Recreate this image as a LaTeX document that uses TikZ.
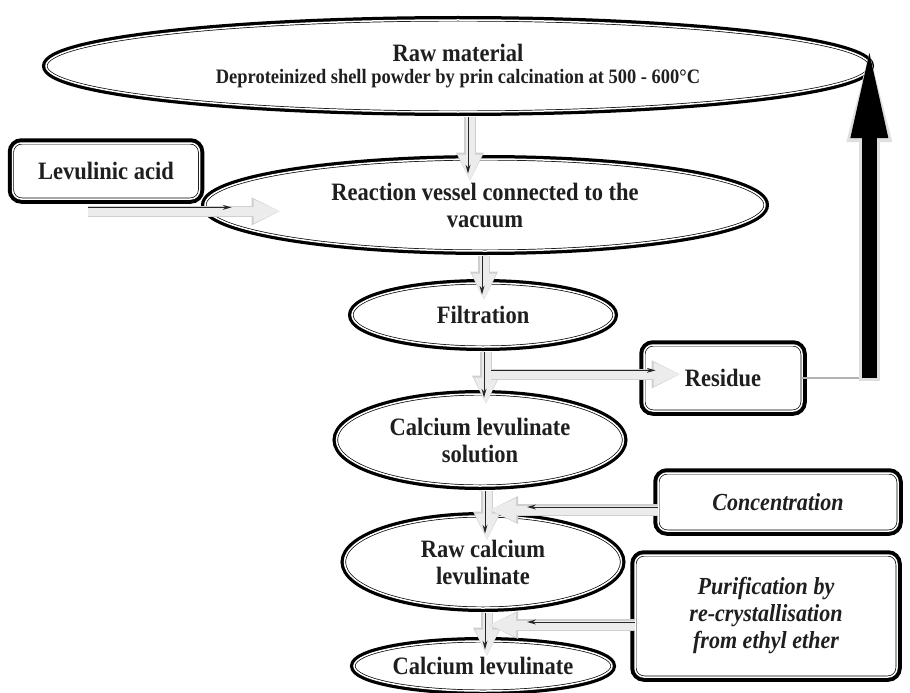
\documentclass[tikz,border=0pt]{standalone}
\usepackage{fontspec}
\setmainfont{Liberation Serif}[FakeStretch=0.9]
\usetikzlibrary{shapes.geometric,arrows.meta,calc}
\begin{document}
\begin{tikzpicture}[x=1pt,y=-1pt,
  lab/.style={font=\fontsize{25}{27}\selectfont\bfseries, align=center, text=black!88},
  ital/.style={font=\fontsize{24.5}{27}\selectfont\bfseries\itshape, align=center, text=black!88},
  dbl/.style={draw=black, line width=0.7pt, double=white, double distance=1.5pt, fill=white},
  ell/.style={dbl, ellipse, inner sep=0pt, preaction={draw=black, line width=8pt}},
  box/.style={dbl, rectangle, rounded corners=9pt, inner sep=0pt, preaction={draw=black, line width=9.5pt}},
  garrow/.style={draw=gray!15, line width=9pt, -{Triangle[length=26pt,width=24pt,line width=0pt]},
     preaction={draw=gray!38, line width=11.5pt, -{Triangle[length=28pt,width=28pt,line width=0pt]}}},
  barrow/.style={draw=black!85, line width=0.8pt, -{Stealth[length=9pt,width=5pt,line width=0pt]}},
  retline/.style={draw=gray!60, line width=1.3pt},
  bigup/.style={draw=black, line width=15pt, -{Triangle[length=85pt,width=38pt,line width=0pt]},
     preaction={draw=gray!25, line width=21pt, shorten <=-3pt, -{Triangle[length=89pt,width=46pt,line width=0pt]}}}
]
\useasboundingbox (0,0) rectangle (910,693);

% nodes
\node[ell, lab, minimum width=824pt, minimum height=92pt] (raw) at (458,66)
  {Raw material\\[-5pt]{\fontsize{20.5}{22}\selectfont Deproteinized shell powder by prin calcination at 500 - 600°C}};
\node[box, lab, minimum width=187pt, minimum height=56pt] (lev) at (106,171) {Levulinic acid};
\node[ell, lab, minimum width=560pt, minimum height=92pt] (rv) at (485,205) {Reaction vessel connected to the\\vacuum};
\node[ell, lab, minimum width=262pt, minimum height=64pt] (filt) at (483,315) {Filtration};
\node[box, lab, minimum width=158pt, minimum height=66pt] (res) at (723,378) {Residue};
\node[ell, lab, minimum width=287pt, minimum height=92pt] (cls) at (480,440) {Calcium levulinate\\solution};
\node[box, ital, minimum width=240pt, minimum height=58pt] (conc) at (778,502) {Concentration};
\node[ell, lab, minimum width=277pt, minimum height=92pt] (rcl) at (483,562) {Raw calcium\\levulinate};
\node[box, ital, minimum width=262pt, minimum height=122pt] (pur) at (766,616) {Purification by\\re-crystallisation\\from ethyl ether};
\node[ell, lab, minimum width=258pt, minimum height=50pt] (cl) at (483,666) {Calcium levulinate};

% vertical flow arrows
\draw[garrow] ([xshift=12pt,yshift=-5pt]raw.south) -- ([xshift=12pt,yshift=-22pt]raw.south |- rv.north);
\draw[barrow] ([xshift=10pt,yshift=-5pt]raw.south) -- ([xshift=10pt,yshift=-15pt]raw.south |- rv.north);

\draw[garrow] ([xshift=-1pt,yshift=-5pt]rv.south) -- ([xshift=-1pt,yshift=-17pt]rv.south |- filt.north);
\draw[barrow] ([xshift=-3pt,yshift=-5pt]rv.south) -- ([xshift=-3pt,yshift=-12pt]rv.south |- filt.north);

\draw[garrow] ([xshift=3pt,yshift=-5pt]filt.south) -- ([xshift=3pt,yshift=-10pt]filt.south |- cls.north);
\draw[barrow] ([xshift=1pt,yshift=-5pt]filt.south) -- ([xshift=1pt,yshift=-4pt]filt.south |- cls.north);

\draw[garrow] ([xshift=7pt,yshift=-5pt]cls.south) -- ([xshift=7pt,yshift=-24pt]cls.south |- rcl.north);
\draw[barrow] ([xshift=5pt,yshift=-5pt]cls.south) -- ([xshift=5pt,yshift=-18pt]cls.south |- rcl.north);

\draw[garrow] ([xshift=4pt,yshift=-5pt]rcl.south) -- ([xshift=4pt,yshift=-15pt]rcl.south |- cl.north);
\draw[barrow] ([xshift=2pt,yshift=-5pt]rcl.south) -- ([xshift=2pt,yshift=-9pt]rcl.south |- cl.north);

% side arrows
\coordinate (levs) at ([xshift=-18pt,yshift=-9pt]lev.south);
\draw[garrow] ([yshift=-3pt]levs) -- ([xshift=75pt,yshift=-3pt]levs -| rv.west);
\draw[barrow] ([yshift=1pt]levs) -- ([xshift=27pt,yshift=1pt]levs -| rv.west);

\coordinate (ress) at ([xshift=8pt,yshift=-25pt]filt.south);
\draw[garrow] ([yshift=-2pt]ress) -- ([xshift=36pt,yshift=-2pt]ress -| res.west);
\draw[barrow] ([yshift=2pt]ress) -- ([xshift=12pt,yshift=2pt]ress -| res.west);

\coordinate (v4) at ([xshift=7pt]cls.south);
\draw[garrow] ([yshift=-8pt]conc.west) -- ([xshift=3pt,yshift=-8pt]conc.west -| v4);
\draw[barrow] ([yshift=-5pt]conc.west) -- ([xshift=40pt,yshift=-5pt]conc.west -| v4);

\coordinate (v5) at ([xshift=4pt]rcl.south);
\draw[garrow] ([yshift=-9pt]pur.west) -- ([xshift=3pt,yshift=-9pt]pur.west -| v5);
\draw[barrow] ([yshift=-6pt]pur.west) -- ([xshift=40pt,yshift=-6pt]pur.west -| v5);

% return of residue to raw material
\coordinate (uptip) at ([xshift=-1pt,yshift=13pt]raw.east);
\coordinate (upbase) at (uptip |- res.east);
\draw[retline] (res.east) -- ([xshift=11pt]upbase);
\draw[bigup] (upbase) -- (uptip);
\end{tikzpicture}
\end{document}
